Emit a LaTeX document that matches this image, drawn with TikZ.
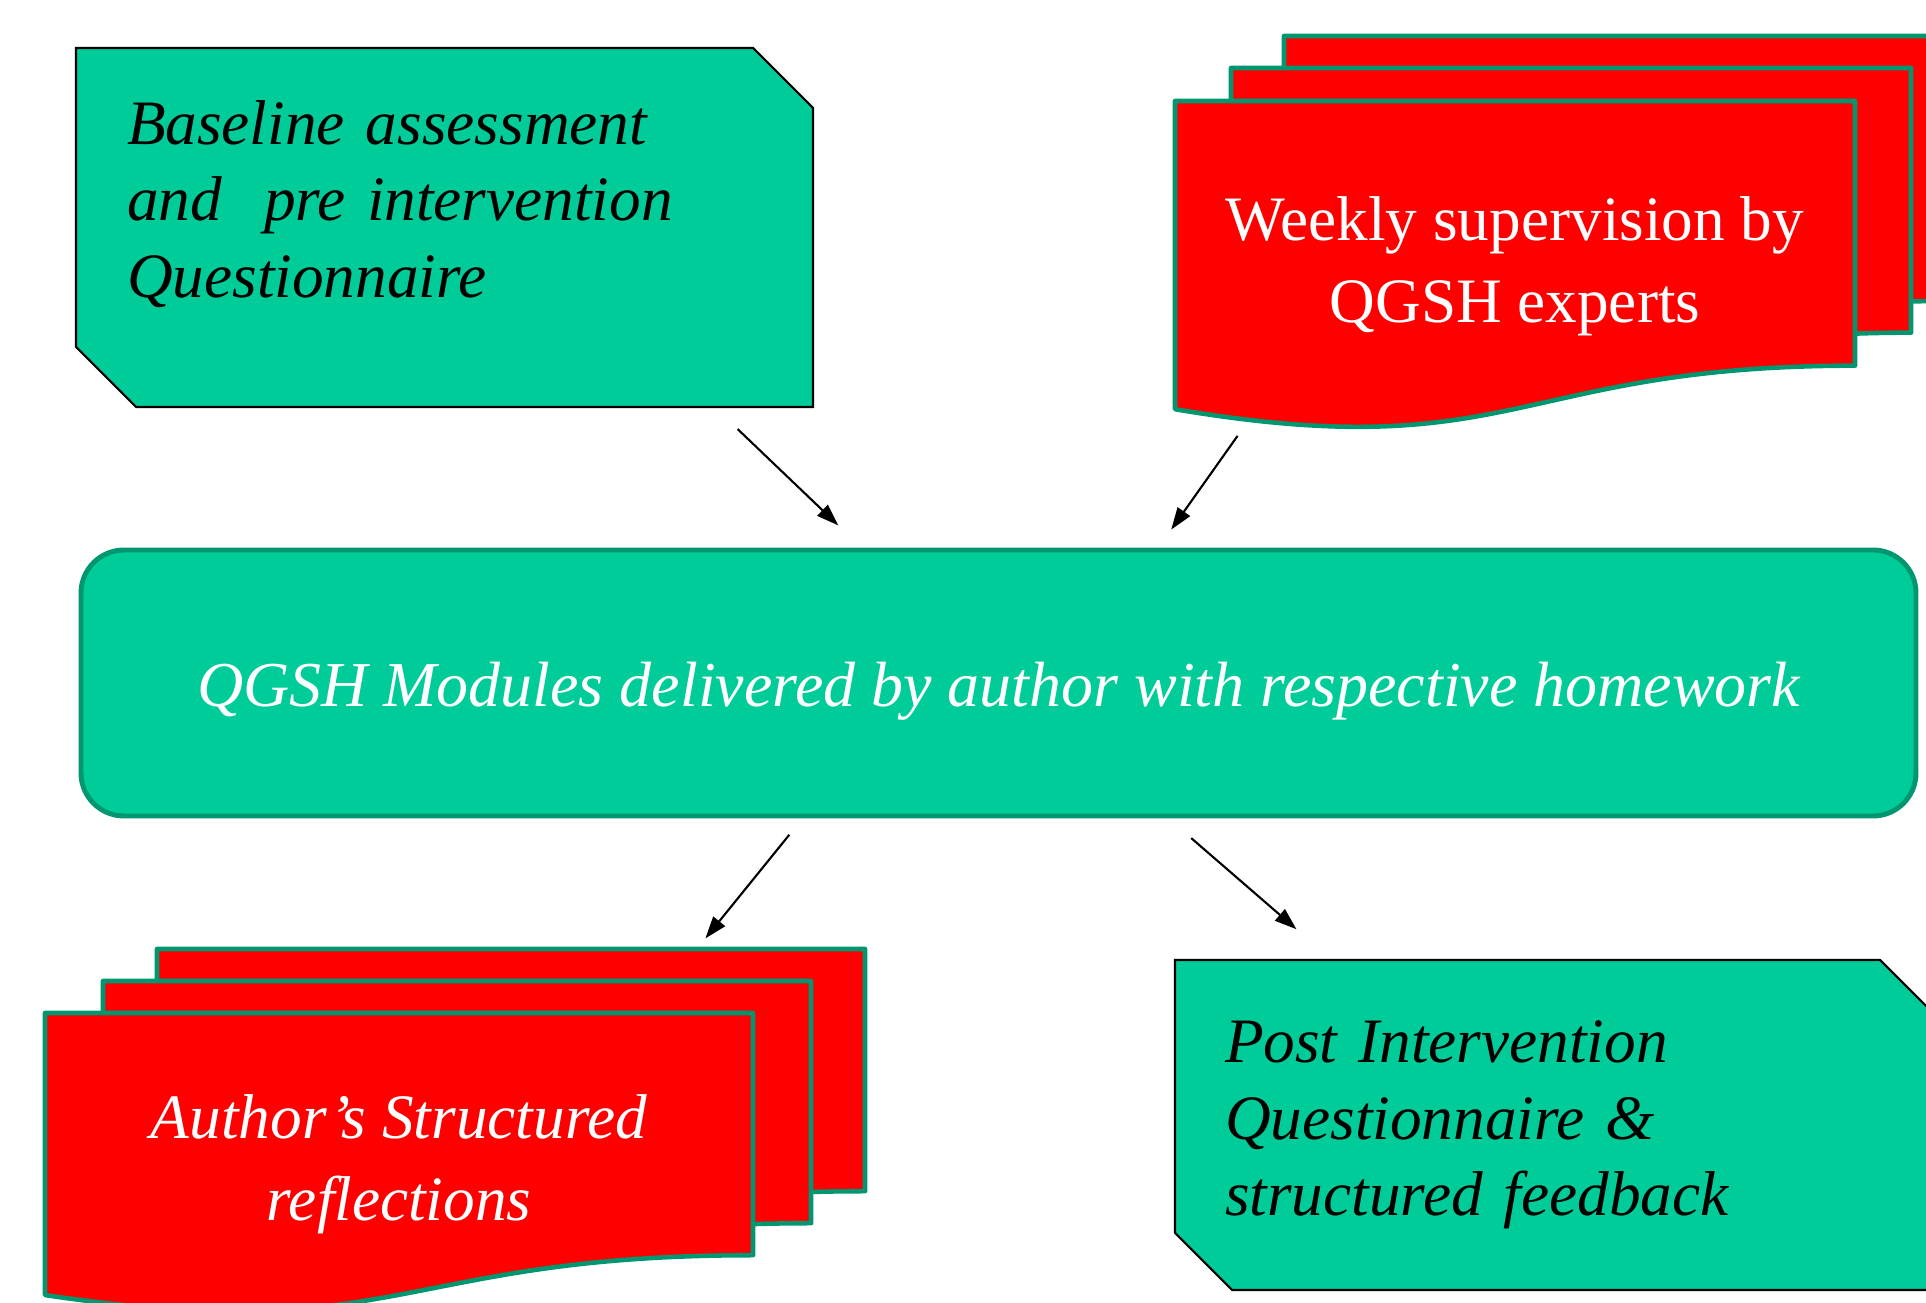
\documentclass[tikz,border=0pt]{standalone}
\usepackage{fontspec}
\setmainfont{Liberation Serif}
\usepackage{tikz}
\usetikzlibrary{positioning,calc,arrows.meta,backgrounds}
\definecolor{qgreen}{RGB}{0,204,153}
\definecolor{qdark}{RGB}{0,150,112}
\definecolor{qred}{RGB}{254,0,0}
\tikzset{
  qt/.style={rectangle, inner sep=0pt, outer sep=0pt, align=left, font=\fontsize{18}{21.7}\selectfont\itshape},
  mb/.style={rectangle, rounded corners=0.43cm, draw=qdark, line width=1.4pt, fill=qgreen, text=white, minimum width=18.35cm, minimum height=2.66cm, font=\fontsize{18.2}{22}\selectfont\itshape},
  dt/.style={rectangle, inner sep=0pt, outer sep=0pt, text=white, align=center},
  cutline/.style={draw=black, line width=0.6pt, fill=qgreen},
  sheetline/.style={draw=qdark, line width=1.3pt, fill=qred, line join=round},
  arr/.style={-{Triangle[length=0.22cm,width=0.15cm]}, line width=0.6pt}
}
\newcommand{\cutbox}[2]{%
  \draw[cutline] (#1.north west) -- ([xshift=-#2]#1.north east) -- ([yshift=-#2]#1.north east)
    -- (#1.south east) -- ([xshift=#2]#1.south west) -- ([yshift=#2]#1.south west) -- cycle;}
\newcommand{\docsheet}[3]{%
  \draw[sheetline] let \p1=(#1.north west), \p2=(#1.south east), \n1={\x2-\x1}, \n2={\y1-\y2} in
    (\x1+#2,\y1+#3) -- (\x2+#2,\y1+#3) -- (\x2+#2,\y1+#3-0.802*\n2)
    .. controls (\x1+#2+0.5*\n1,\y1+#3-0.802*\n2) and (\x1+#2+0.5*\n1,\y1+#3-1.1075*\n2)
    .. (\x1+#2,\y1+#3-0.934*\n2) -- cycle;}
\begin{document}
\begin{tikzpicture}
	\useasboundingbox (0,0) rectangle (19.26,-13.03);
	\node[qt, minimum width=7.37cm, minimum height=3.59cm, text width=6.35cm] (base) at (4.445,-2.275) {Baseline assessment\\and~ pre intervention\\Questionnaire\rule[-0.57cm]{0pt}{0pt}};
	\node[dt, minimum width=6.80cm, minimum height=3.30cm, font=\fontsize{18}{23.3}\selectfont] (sup) at (15.15,-2.66) {Weekly supervision by\\QGSH experts};
	\node[mb] (mod) at (9.985,-6.83) {\rule{0pt}{0.6cm}QGSH Modules delivered by author with respective homework};
	\node[dt, minimum width=7.08cm, minimum height=3.02cm, font=\fontsize{18}{23.3}\selectfont\itshape] (refl) at (3.99,-11.64) {Author’s Structured\\reflections};
	\node[qt, minimum width=7.62cm, minimum height=3.30cm, text width=6.62cm] (post) at (15.56,-11.25) {Post Intervention\\Questionnaire \&\\structured feedback};
	%
	\begin{scope}[on background layer]
	\cutbox{base}{0.60cm}
	\cutbox{post}{0.57cm}
	\docsheet{sup}{1.09cm}{0.65cm}
	\docsheet{sup}{0.56cm}{0.33cm}
	\docsheet{sup}{0cm}{0cm}
	\docsheet{refl}{1.12cm}{0.64cm}
	\docsheet{refl}{0.58cm}{0.32cm}
	\docsheet{refl}{0cm}{0cm}
	\end{scope}
	%
	\draw[arr, shorten <=0.32cm, shorten >=0.32cm] ([xshift=2.70cm]base.south) -- ([xshift=-1.37cm]mod.north);
	\draw[arr, shorten <=0.06cm, shorten >=0.22cm] ([xshift=0.66cm]sup.south west) -- ([xshift=1.60cm]mod.north);
	\draw[arr, shorten <=0.21cm, shorten >=0.96cm] ([xshift=-1.96cm]mod.south) -- ([xshift=2.46cm]refl.north);
	\draw[arr, shorten <=0.30cm, shorten >=0.47cm] ([xshift=1.70cm]mod.south) -- ([xshift=-2.24cm]post.north);
\end{tikzpicture}
\end{document}
